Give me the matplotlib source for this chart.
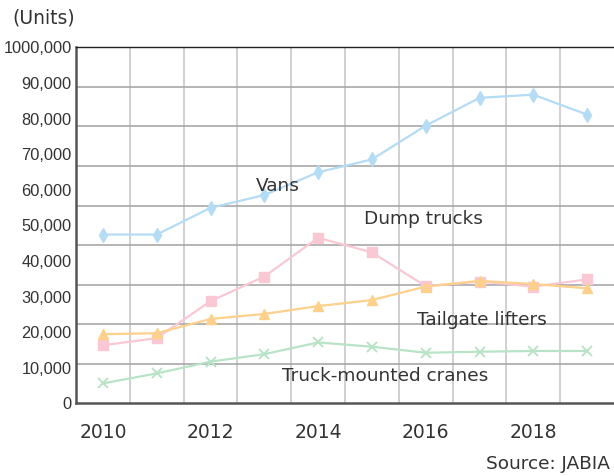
import numpy as np
import matplotlib.pyplot as plt

years = [2010, 2011, 2012, 2013, 2014, 2015, 2016, 2017, 2018, 2019]
vans = [47400, 47400, 54900, 58500, 64900, 68500, 78000, 85800, 86700, 81100]
dump_trucks = [16300, 18300, 28700, 35600, 46500, 42400, 32900, 34200, 32800, 34800]
tailgate_lifters = [19400, 19700, 23700, 25100, 27300, 29000, 32800, 34400, 33500, 32300]
cranes = [5600, 8400, 11700, 13800, 17100, 15900, 14200, 14500, 14700, 14700]

y_ticks = [0, 10000, 20000, 30000, 40000, 50000, 60000, 70000, 80000, 90000, 100000]
y_labels = ["0", "10,000", "20,000", "30,000", "40,000", "50,000",
            "60,000", "70,000", "80,000", "90,000", "1000,000"]
x_labels = ["2010", "2012", "2014", "2016", "2018"]

txt = "#333333"

fig = plt.figure(figsize=(6.14, 4.76), dpi=100)
ax = fig.add_axes([76 / 614, 0.1527, 1 - 76 / 614, 0.7479])

x = np.arange(len(years))
ax.plot(x, vans, color="#b4dcf5", lw=1.6, marker="d", ms=7.5, zorder=3)
ax.plot(x, dump_trucks, color="#f9c8d4", lw=1.6, marker="s", ms=6.5, zorder=3)
ax.plot(x, tailgate_lifters, color="#fdd08c", lw=1.6, marker="^", ms=7, zorder=4)
ax.plot(x, cranes, color="#b9e3c6", lw=1.6, marker="x", ms=6.5, mew=1.4, zorder=3)

ax.set_xlim(-0.5, len(years) - 0.5)
ax.set_ylim(0, 100000)

# grid: vertical at category boundaries, horizontal in 9 bands
ax.set_xticks(np.arange(0.5, len(years) - 0.5, 1), minor=True)
ax.set_yticks(np.linspace(0, 100000, 10), minor=True)
ax.grid(which="minor", axis="x", color="#c4c4c4", lw=1.1)
ax.grid(which="minor", axis="y", color="#a8a8a8", lw=1.2)
ax.tick_params(which="minor", length=0)

ax.set_xticks([0, 2, 4, 6, 8])
ax.set_xticklabels(x_labels, fontsize=13.5, color=txt)
ax.set_yticks(y_ticks)
ax.set_yticklabels(y_labels, fontsize=11.8, color=txt, family="Liberation Sans")
ax.tick_params(which="major", length=0)
ax.tick_params(axis="x", pad=14)
ax.tick_params(axis="y", pad=3)

ax.spines["right"].set_visible(False)
ax.spines["top"].set_color("#222222")
ax.spines["top"].set_linewidth(1.0)
ax.spines["left"].set_color("#555555")
ax.spines["left"].set_linewidth(1.8)
ax.spines["bottom"].set_color("#555555")
ax.spines["bottom"].set_linewidth(1.8)

ax.text(3.25, 61000, "Vans", fontsize=13.3, color=txt, ha="center", va="center")
ax.text(5.95, 51800, "Dump trucks", fontsize=13.3, color=txt, ha="center", va="center")
ax.text(7.05, 23500, "Tailgate lifters", fontsize=13.3, color=txt, ha="center", va="center")
ax.text(5.25, 7800, "Truck-mounted cranes", fontsize=13.3, color=txt, ha="center", va="center")

fig.text(12 / 614, 1 - 18 / 476, "(Units)", fontsize=13.5, color=txt, ha="left", va="center")
fig.text(610 / 614, 1 - 464 / 476, "Source: JABIA", fontsize=13.3, color=txt, ha="right", va="center")

fig.savefig("out.png", dpi=100)
